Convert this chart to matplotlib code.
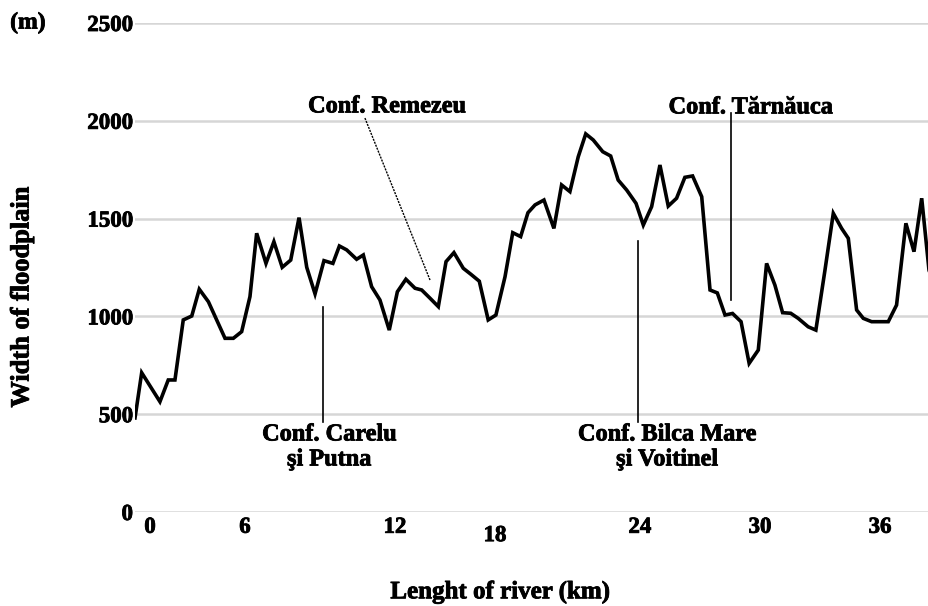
import matplotlib
matplotlib.use("Agg")
import matplotlib.pyplot as plt
import matplotlib.patheffects as pe

# ---- data ----
distance_km = [-0.74, -0.41, 0.49, 0.90, 1.23, 1.64, 2.06, 2.43, 2.88, 3.70,
               4.11, 4.52, 4.93, 5.26, 5.72, 6.11, 6.52, 6.94, 7.35, 7.73,
               8.14, 8.58, 9.02, 9.34, 9.70, 10.19, 10.52, 10.93, 11.34, 11.80,
               12.20, 12.62, 13.07, 13.40, 13.81, 14.22, 14.60, 14.99, 15.45, 15.83,
               16.24, 16.68, 17.06, 17.51, 17.89, 18.28, 18.64, 18.99, 19.43, 19.92,
               20.30, 20.71, 21.12, 21.49, 21.86, 22.33, 22.72, 23.09, 23.51, 23.97,
               24.33, 24.74, 25.15, 25.56, 25.97, 26.38, 26.76, 27.21, 27.62, 27.98,
               28.36, 28.73, 29.15, 29.55, 30.00, 30.41, 30.82, 31.20, 31.60, 31.97,
               32.46, 32.84, 33.29, 33.70, 34.11, 34.44, 34.85, 35.18, 35.59, 36.00,
               36.41, 36.82, 37.28, 37.68, 38.06, 38.42, 38.81]
width_m = [481, 712, 564, 675, 675, 982, 1002, 1139, 1075, 888,
           888, 922, 1101, 1425, 1271, 1382, 1251, 1288, 1505, 1251,
           1115, 1285, 1271, 1360, 1340, 1292, 1314, 1152, 1084, 930,
           1126, 1190, 1144, 1135, 1093, 1050, 1280, 1326, 1246, 1215,
           1180, 982, 1007, 1203, 1428, 1408, 1530, 1570, 1595, 1450,
           1672, 1638, 1816, 1933, 1902, 1842, 1820, 1697, 1646, 1578,
           1467, 1561, 1774, 1564, 1604, 1711, 1718, 1612, 1135, 1120,
           1007, 1015, 973, 760, 828, 1271, 1160, 1019, 1016, 990,
           947, 930, 1237, 1527, 1450, 1399, 1033, 990, 973, 973,
           973, 1058, 1476, 1331, 1604, 1237, 1100]

y_ticks = [0, 500, 1000, 1500, 2000, 2500]
x_tick_labels = ["0", "6", "12", "18", "24", "30", "36"]
x_tick_pos = [0.0, 4.68, 12.08, 17.01, 24.16, 30.08, 36.0]

conf_labels = ["Conf. Remezeu", "Conf. Tărnăuca", "Conf. Carelu\nşi Putna", "Conf. Bilca Mare\nşi Voitinel"]

FONT = "Liberation Serif"
plt.rcParams['font.family'] = [FONT, 'DejaVu Serif']
plt.rcParams['font.weight'] = 'bold'

heavy = [pe.withStroke(linewidth=0.6, foreground='black')]

fig = plt.figure(figsize=(9.29, 6.06), dpi=100)
ax = fig.add_axes([135/929, 94/606, 794/929, 489/606])

ax.set_xlim(-0.74, 38.42)
ax.set_ylim(0, 2500)

for s in ax.spines.values():
    s.set_visible(False)

ax.set_yticks(y_ticks)
ax.set_yticklabels([str(v) for v in y_ticks], fontsize=16.5, fontweight='bold')
for t in ax.get_yticklabels():
    t.set_path_effects(heavy)
ax.tick_params(axis='y', length=0, pad=1.5)
ax.yaxis.grid(True, color='#d6d6d6', linewidth=1.8)
ax.set_axisbelow(True)

ax.set_xticks([])
for lbl, pos in zip(x_tick_labels, x_tick_pos):
    dy = -17 if lbl == "18" else -11
    ax.annotate(lbl, xy=(pos, 0), xycoords=('data', 'axes fraction'),
                xytext=(0, dy), textcoords='offset points',
                ha='center', va='center', fontsize=16.5, fontweight='bold',
                annotation_clip=False, path_effects=heavy)

ax.plot(distance_km, width_m, color='black', linewidth=2.6, clip_on=True,
        solid_joinstyle='miter')

# annotation lines
ax.plot([8.53, 8.53], [460, 1048], color='black', linewidth=1.2)
ax.plot([24.06, 24.06], [460, 1385], color='black', linewidth=1.2)
ax.plot([28.65, 28.65], [1084, 2040], color='black', linewidth=1.2)
ax.plot([10.6, 13.81], [2014, 1186], color='black', linewidth=1.0, linestyle=(0, (1.5, 0.8)))

txt_kw = dict(fontsize=17.5, fontweight='bold', ha='center', va='center', path_effects=heavy)
ax.text(11.68, 2071, conf_labels[0], **txt_kw)
ax.text(29.62, 2066, conf_labels[1], **txt_kw)
ax.text(8.84, 330, conf_labels[2], linespacing=1.25, **txt_kw)
ax.text(25.5, 330, conf_labels[3], linespacing=1.25, **txt_kw)

fig.text(28/929, 1 - 23/606, "(m)", fontsize=17, fontweight='bold', ha='center', va='center', path_effects=heavy)
fig.text(22/929, 1 - 297/606, "Width of floodplain", fontsize=19, fontweight='bold',
         rotation=90, ha='center', va='center', path_effects=heavy)
fig.text(500/929, 1 - 592/606, "Lenght of river (km)", fontsize=18, fontweight='bold',
         ha='center', va='center', path_effects=heavy)

fig.savefig("out.png", dpi=100, facecolor='white')
